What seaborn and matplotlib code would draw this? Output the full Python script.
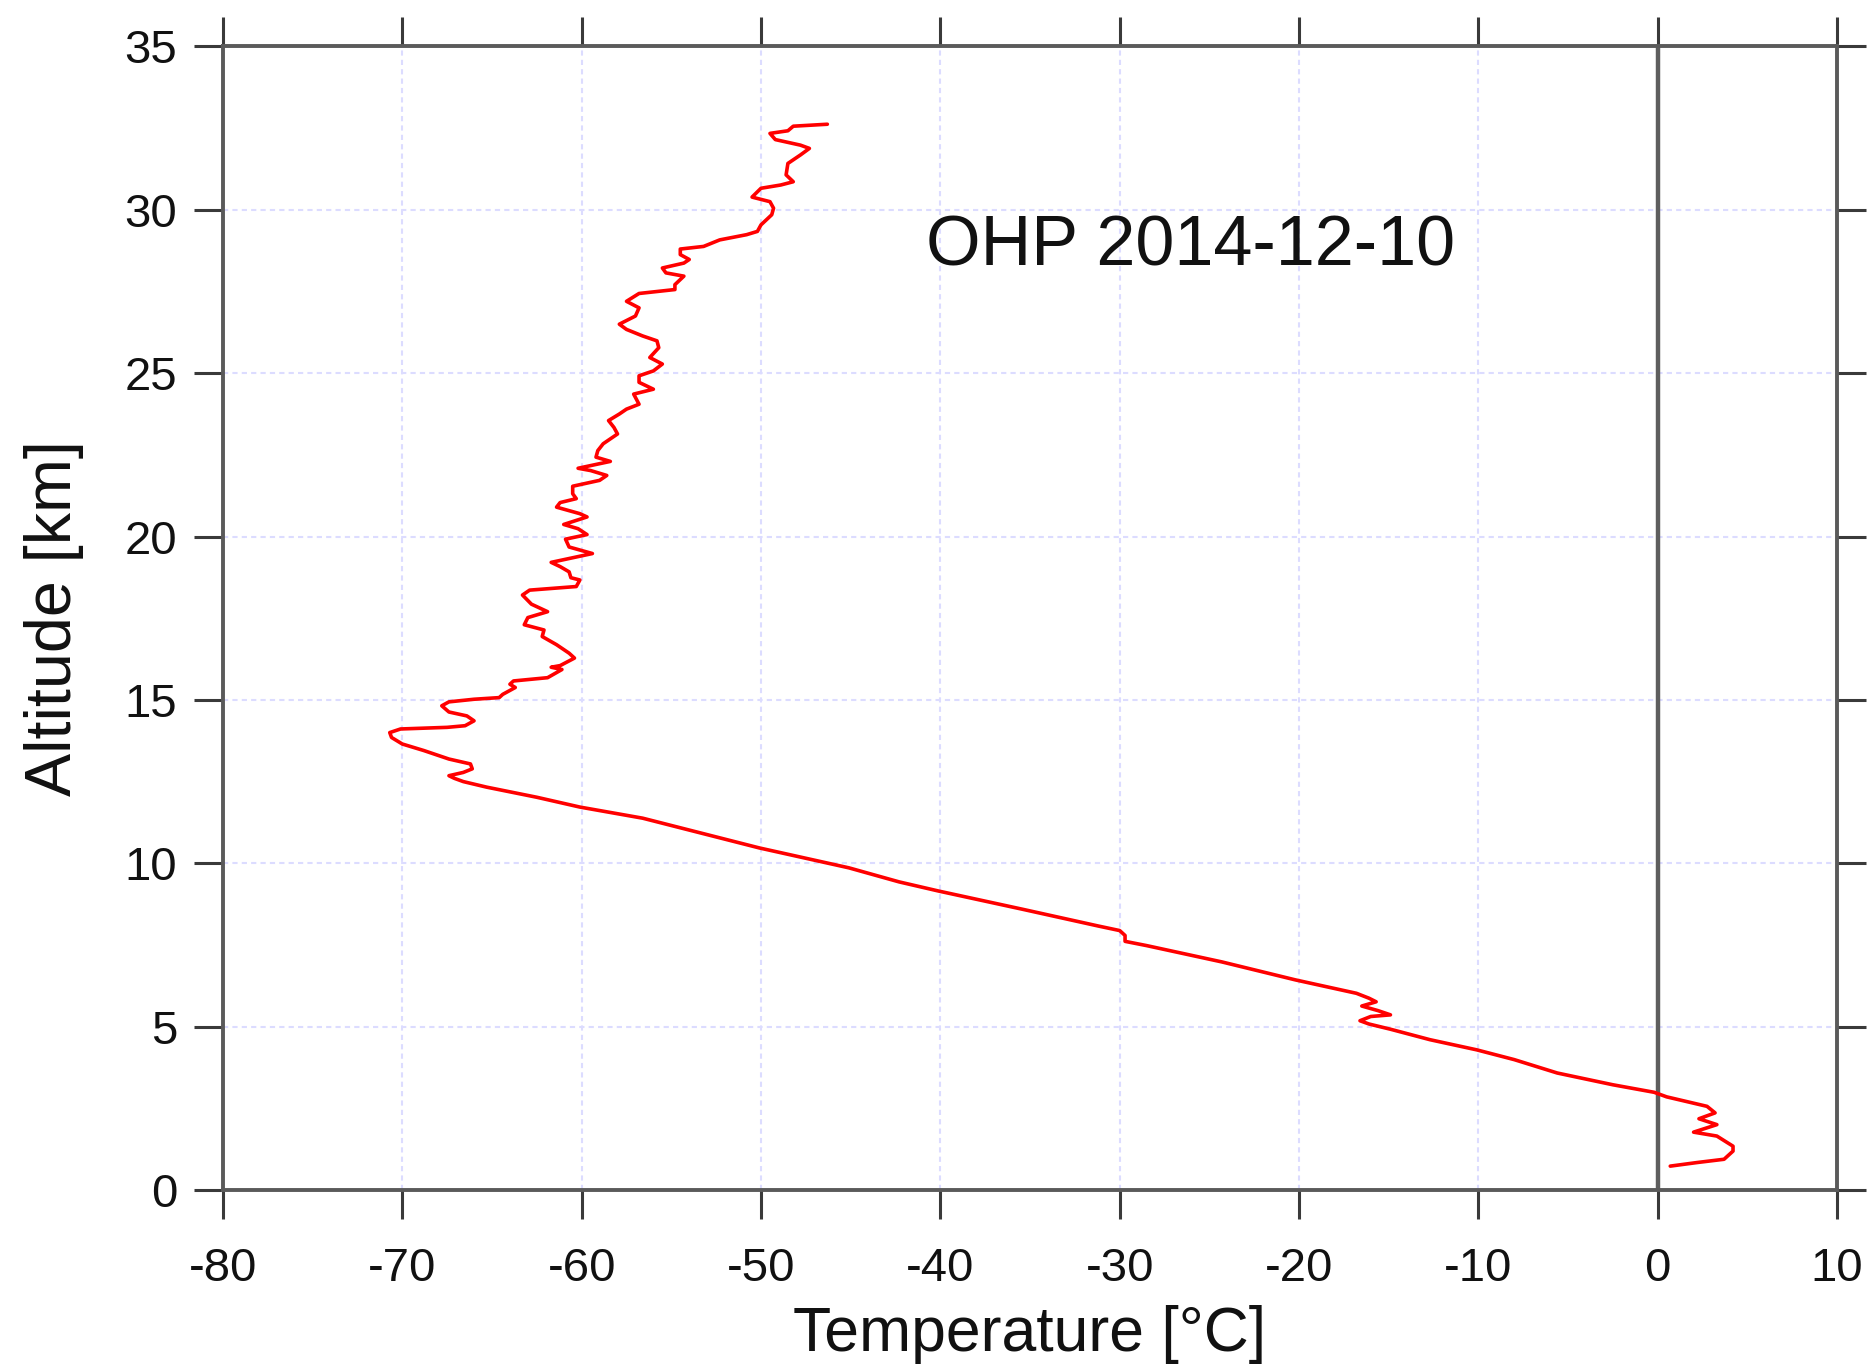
import matplotlib
matplotlib.use("Agg")
import matplotlib.pyplot as plt
import pandas as pd
import seaborn as sns

# ---- data (temperature profile, top to bottom) ----
temperature_c = [
    -46.3, -48.2, -48.5, -49.5, -49.2, -47.8, -47.3, -47.8, -48.5, -48.6,
    -48.2, -48.9, -50.0, -50.5, -49.5, -49.3, -49.4, -50.0, -50.2, -50.8,
    -52.3, -53.2, -54.5, -54.5, -54.0, -54.3, -55.5, -55.3, -54.3, -54.8,
    -54.8, -56.8, -57.5, -56.8, -57.0, -57.9, -57.5, -56.6, -55.8, -55.7,
    -56.2, -55.5, -56.0, -56.8, -56.8, -56.0, -57.1, -56.8, -57.5, -57.9,
    -58.5, -58.2, -58.0, -58.8, -59.1, -59.2, -58.4, -60.2, -59.5, -58.6,
    -59.0, -60.5, -60.5, -60.3, -61.2, -61.4, -60.1, -59.7, -61.0, -60.2,
    -59.7, -60.9, -60.7, -59.4, -61.7, -61.2, -60.7, -60.6, -60.1, -60.3,
    -62.9, -63.3, -62.8, -61.9, -63.0, -63.2, -62.1, -62.2, -61.4, -60.7,
    -60.4, -61.2, -61.7, -61.1, -61.9, -63.8, -64.0, -63.7, -64.4, -64.6,
    -66.0, -67.4, -67.8, -67.4, -66.4, -66.0, -66.5, -67.5, -70.1, -70.7,
    -70.6, -70.0, -68.8, -67.4, -66.2, -66.1, -66.6, -67.4, -67.1, -66.6,
    -65.3, -62.5, -60.1, -56.6, -50.1, -45.1, -42.3, -40.1, -35.4, -31.2,
    -30.0, -29.7, -29.7, -28.5, -24.3, -20.2, -16.8, -16.1, -15.7, -16.5,
    -15.6, -14.9, -16.0, -16.6, -16.1, -14.9, -12.7, -10.1, -8.0, -5.6,
    -2.5, -0.2, 0.5, 2.75, 3.2, 2.3, 3.3, 2.0, 3.3, 4.2,
    4.2, 3.7, 2.2, 0.7,
]
altitude_km = [
    32.62, 32.56, 32.42, 32.34, 32.15, 31.98, 31.88, 31.68, 31.42, 31.07,
    30.86, 30.76, 30.66, 30.39, 30.25, 30.05, 29.85, 29.54, 29.34, 29.24,
    29.08, 28.88, 28.80, 28.63, 28.48, 28.37, 28.22, 28.07, 27.97, 27.71,
    27.56, 27.44, 27.20, 27.00, 26.75, 26.50, 26.34, 26.14, 25.99, 25.78,
    25.48, 25.28, 25.07, 24.92, 24.72, 24.51, 24.36, 24.05, 23.90, 23.75,
    23.55, 23.34, 23.14, 22.84, 22.63, 22.43, 22.30, 22.09, 22.02, 21.87,
    21.72, 21.54, 21.31, 21.16, 21.04, 20.90, 20.70, 20.60, 20.37, 20.24,
    20.06, 19.92, 19.68, 19.48, 19.21, 19.08, 18.92, 18.74, 18.67, 18.47,
    18.36, 18.21, 17.93, 17.70, 17.52, 17.30, 17.14, 16.94, 16.69, 16.43,
    16.28, 16.05, 16.00, 15.93, 15.68, 15.58, 15.48, 15.38, 15.17, 15.07,
    15.02, 14.94, 14.82, 14.63, 14.51, 14.36, 14.21, 14.16, 14.11, 14.00,
    13.85, 13.65, 13.45, 13.19, 13.04, 12.89, 12.78, 12.68, 12.60, 12.50,
    12.33, 12.02, 11.72, 11.38, 10.47, 9.86, 9.43, 9.15, 8.59, 8.08,
    7.94, 7.79, 7.61, 7.48, 6.98, 6.43, 6.02, 5.87, 5.76, 5.63,
    5.49, 5.36, 5.31, 5.18, 5.08, 4.92, 4.60, 4.29, 3.99, 3.58,
    3.22, 2.99, 2.85, 2.56, 2.36, 2.18, 2.00, 1.77, 1.65, 1.34,
    1.19, 0.94, 0.84, 0.73,
]
x_ticks = [-80, -70, -60, -50, -40, -30, -20, -10, 0, 10]
x_tick_labels = ["-80", "-70", "-60", "-50", "-40", "-30", "-20", "-10", "0", "10"]
y_ticks = [0, 5, 10, 15, 20, 25, 30, 35]
y_tick_labels = ["0", "5", "10", "15", "20", "25", "30", "35"]
title_text = "OHP 2014-12-10"
x_label = "Temperature [°C]"
y_label = "Altitude [km]"

# ---- style ----
sns.set_style("ticks")
plt.rcParams["font.family"] = ["Liberation Sans", "DejaVu Sans"]
plt.rcParams["axes.unicode_minus"] = False

fig = plt.figure(figsize=(18.69, 13.67), dpi=100)
ax = fig.add_axes([0.1193, 0.1295, 0.8636, 0.8365])

df = pd.DataFrame({"temperature": temperature_c, "altitude": altitude_km})
sns.lineplot(data=df, x="temperature", y="altitude", sort=False, estimator=None,
             color="#ff0000", linewidth=2.6, ax=ax, zorder=3)

ax.set_xlim(-80, 10)
ax.set_ylim(0, 35)
ax.set_xticks(x_ticks)
ax.set_xticklabels(x_tick_labels)
ax.set_yticks(y_ticks)
ax.set_yticklabels(y_tick_labels)

ax.set_axisbelow(True)
ax.grid(True, color="#dcdcff", linestyle=(0, (2.5, 2.0)), linewidth=1.5)
ax.axvline(0, color="#5e5e5e", linewidth=3.2, zorder=2)

for s in ax.spines.values():
    s.set_color("#5a5a5a")
    s.set_linewidth(2.8)
    s.set_visible(True)

ax.tick_params(which="major", direction="out", length=21, width=2.2,
               color="#3a3a3a", top=True, right=True, labeltop=False,
               labelright=False, labelsize=34, labelcolor="#111111")
ax.tick_params(axis="x", pad=20)
ax.tick_params(axis="y", pad=12)

ax.set_xlabel(x_label, fontsize=45, color="#111111")
ax.set_ylabel(y_label, fontsize=46.5, color="#111111")
ax.xaxis.set_label_coords(0.5, -0.101)
ax.yaxis.set_label_coords(-0.086, 0.5)

ax.text(-40.8, 28.3, title_text, fontsize=50.5, ha="left", va="baseline",
        color="#111111")

fig.savefig("out.png", dpi=100)
